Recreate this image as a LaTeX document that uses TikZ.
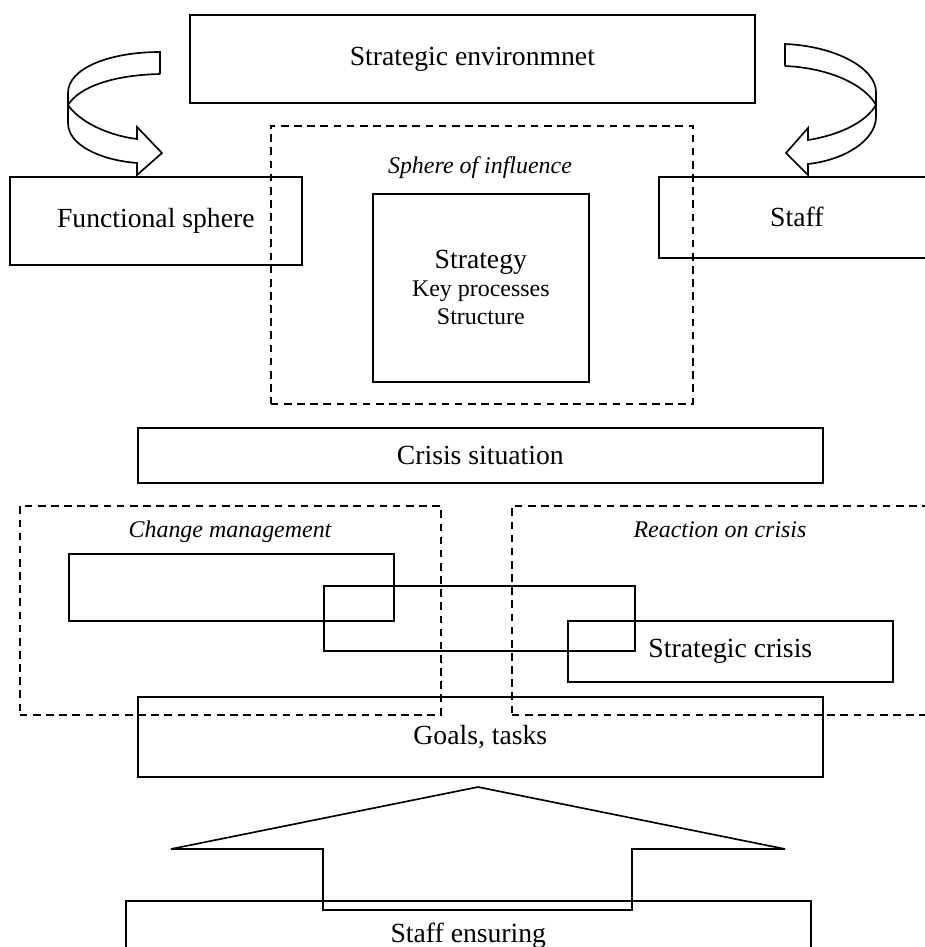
\documentclass[tikz,border=0pt]{standalone}
\usepackage{fontspec}
\setmainfont{Liberation Serif}
\usepackage{tikz}
\usetikzlibrary{positioning}

\newcommand{\mainsize}{\fontsize{20}{24}\selectfont}
\newcommand{\smallsize}{\fontsize{17.3}{20.2}\selectfont}

\tikzset{
    box/.style={draw,line width=1.2pt,anchor=north west,inner sep=0pt,font=\mainsize},
    zone/.style={draw,line width=1.2pt,dash pattern=on 5.5pt off 4pt,anchor=north west,inner sep=0pt},
    zonelabel/.style={font=\smallsize\itshape,anchor=base},
    curvearrow/.style={draw,line width=1.2pt,line join=miter}
}

\begin{document}
\begin{tikzpicture}
    \useasboundingbox (0,0) rectangle (9.24in,-9.47in);

    \node[box,minimum width=5.65in,minimum height=0.88in] (env) at (1.89in,-0.14in) {Strategic environmnet};
    \node[box,minimum width=2.92in,minimum height=0.88in] (func) at (0.09in,-1.76in) {Functional sphere};
    \node[box,minimum width=2.76in,minimum height=0.81in] (staff) at (6.58in,-1.76in) {Staff};

    \node[zone,minimum width=4.22in,minimum height=2.78in] (sphere) at (2.70in,-1.25in) {};
    \node[zonelabel] (spherelabel) at (4.80in,-1.73in) {Sphere of influence};
    \node[box,minimum width=2.16in,minimum height=1.88in,align=center,font=\smallsize] (strategy) at (3.72in,-1.93in)
        {{\mainsize Strategy}\\Key processes\\Structure};

    % curved arrows from the environment
    \path[curvearrow] (1.60in,-0.74in) -- (1.60in,-0.52in)
        .. controls (1.10in,-0.52in) and (0.68in,-0.68in) .. (0.68in,-0.93in) -- (0.68in,-1.23in)
        .. controls (0.68in,-1.45in) and (1.00in,-1.60in) .. (1.37in,-1.63in)
        -- (1.37in,-1.75in) -- (1.62in,-1.53in) -- (1.37in,-1.27in) -- (1.37in,-1.39in)
        .. controls (1.05in,-1.35in) and (0.78in,-1.20in) .. (0.68in,-1.05in);
    \path[curvearrow] (1.60in,-0.74in) .. controls (1.15in,-0.75in) and (0.80in,-0.86in) .. (0.68in,-1.05in);

    \path[curvearrow] (7.85in,-0.66in) -- (7.85in,-0.44in)
        .. controls (8.35in,-0.46in) and (8.76in,-0.68in) .. (8.76in,-0.92in) -- (8.76in,-1.17in)
        .. controls (8.76in,-1.40in) and (8.45in,-1.60in) .. (8.08in,-1.64in)
        -- (8.08in,-1.75in) -- (7.86in,-1.53in) -- (8.08in,-1.28in) -- (8.08in,-1.40in)
        .. controls (8.40in,-1.35in) and (8.66in,-1.22in) .. (8.76in,-1.05in);
    \path[curvearrow] (7.85in,-0.66in) .. controls (8.30in,-0.68in) and (8.65in,-0.85in) .. (8.76in,-1.05in);

    \node[box,minimum width=6.85in,minimum height=0.55in] (crisis) at (1.37in,-4.27in) {Crisis situation};

    \node[zone,minimum width=4.21in,minimum height=2.09in] (change) at (0.19in,-5.05in) {};
    \node[zonelabel] (changelabel) at (2.30in,-5.37in) {Change management};
    \node[zone,minimum width=4.20in,minimum height=2.09in] (reaction) at (5.11in,-5.05in) {};
    \node[zonelabel] (reactionlabel) at (7.20in,-5.37in) {Reaction on crisis};

    \node[box,minimum width=3.25in,minimum height=0.67in] (boxa) at (0.68in,-5.53in) {};
    \node[box,minimum width=3.11in,minimum height=0.65in] (boxb) at (3.23in,-5.85in) {};
    \node[box,minimum width=3.25in,minimum height=0.61in] (boxc) at (5.67in,-6.20in) {Strategic crisis};

    \node[box,minimum width=6.85in,minimum height=0.80in] (goals) at (1.37in,-6.96in) {Goals, tasks};
    \node[box,minimum width=6.85in,minimum height=0.70in] (ensuring) at (1.25in,-9.00in) {Staff ensuring};

    % block arrow up
    \path[curvearrow] (4.78in,-7.87in) -- (7.85in,-8.49in) -- (6.32in,-8.49in) -- (6.32in,-9.10in)
        -- (3.23in,-9.10in) -- (3.23in,-8.49in) -- (1.71in,-8.49in) -- cycle;
\end{tikzpicture}
\end{document}
